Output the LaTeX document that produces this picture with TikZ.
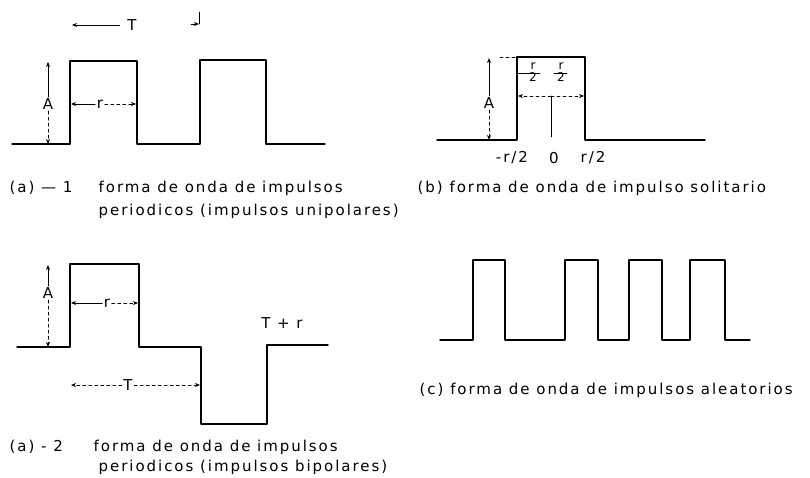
\documentclass[tikz,border=0pt]{standalone}
\usepackage{fontspec}
\newfontfamily\scanfont[LetterSpace=13]{DejaVu Sans}
\usetikzlibrary{arrows.meta}

\begin{document}
\begin{tikzpicture}[line width=1.4pt, line cap=round, line join=round, >={Stealth[length=5pt,width=4pt]}, x=1pt, y=-1pt,
  dim/.style={line width=0.8pt},
  dimdash/.style={dim, dash pattern=on 3pt off 3pt},
  lbl/.style={font=\scanfont\fontsize{15}{17}\selectfont, inner sep=1pt},
  captxt/.style={lbl, anchor=west}]
  \useasboundingbox (0,0) rectangle (810,478);
  % (a)-1: periodic unipolar pulses.
  \draw (12,144) -- (70,144) -- (70,61) -- (137,61) -- (137,144) -- (200,144) -- (200,60) -- (266,60) -- (266,144) -- (325,144);
  \node[lbl] (Ta) at (132,25) {T};
  \draw[dim,<-,shorten >=6pt] (72,25) -- (Ta.west);
  \coordinate (Tend) at (199,24);
  \draw[dim] (199,12) -- (Tend);
  \draw[dim,->] (191,24) -- (Tend);
  \node[lbl] (Aa) at (48,104) {A};
  \draw[dim,->] (Aa) -- (48,62);
  \draw[dimdash,->] (Aa) -- (48,144);
  \node[lbl] (ra) at (100,104) {r};
  \draw[dim,->] (ra) -- (71,104);
  \draw[dimdash,->] (ra) -- (136,104);
  \node[captxt] (capa) at (8,188) {(a) — 1};
  \node[captxt] (capa1) at (97,188) {forma de onda de impulsos};
  \node[captxt] (capa2) at (97,211) {periodicos (impulsos unipolares)};
  % (b): single pulse.
  \draw (437,140) -- (517,140) -- (517,57) -- (585,57) -- (585,140) -- (705,140);
  \draw[dimdash] (500,57) -- (517,57);
  \node[lbl] (Ab) at (489,103) {A};
  \draw[dim,->] (Ab) -- (489,58);
  \draw[dimdash,->] (Ab) -- (489,140);
  \node[lbl, align=center, font=\scanfont\fontsize{12}{12}\selectfont] (h1) at (533,72) {r\\2};
  \node[lbl, align=center, font=\scanfont\fontsize{12}{12}\selectfont] (h2) at (561,72) {r\\2};
  \draw[dim] (518,73) -- (540,73);
  \draw[dim] (554,73) -- (567,73);
  \coordinate (mid) at (551,96);
  \draw[dimdash,->] (mid) -- (518,96);
  \draw[dimdash,->] (mid) -- (584,96);
  \draw[dim] (mid) -- (551,137);
  \node[lbl] (lm) at (512,158) {-r/2};
  \node[lbl] (l0) at (554,158) {0};
  \node[lbl] (lp) at (593,158) {r/2};
  \node[captxt] (capb) at (416,188) {(b) forma de onda de impulso solitario};
  % (a)-2: periodic bipolar pulses.
  \draw (17,347) -- (70,347) -- (70,264) -- (139,264) -- (139,347) -- (201,347) -- (201,424) -- (267,424) -- (267,345) -- (328,345);
  \node[lbl] (Ac) at (48,293) {A};
  \draw[dim,->] (Ac) -- (48,265);
  \draw[dimdash,->] (Ac) -- (48,347);
  \node[lbl] (rc) at (107,303) {r};
  \draw[dim,->] (rc) -- (71,303);
  \draw[dimdash,->] (rc) -- (138,303);
  \node[lbl] (Tc) at (128,385) {T};
  \draw[dimdash,->] (Tc) -- (71,385);
  \draw[dimdash,->] (Tc) -- (200,385);
  \node[lbl] (Trc) at (282,323) {T + r};
  \node[captxt] (capc) at (8,447) {(a) - 2};
  \node[captxt] (capc1) at (92,447) {forma de onda de impulsos};
  \node[captxt] (capc2) at (97,467) {periodicos (impulsos bipolares)};
  % (c): random pulses.
  \draw (440,340) -- (473,340) -- (473,260) -- (505,260) -- (505,340) -- (565,340) -- (565,260) -- (598,260) -- (598,340) -- (629,340) -- (629,260) -- (662,260) -- (662,340) -- (690,340) -- (690,260) -- (725,260) -- (725,340) -- (750,340);
  \node[captxt] (capd) at (418,390) {(c) forma de onda de impulsos aleatorios};
\end{tikzpicture}
\end{document}
